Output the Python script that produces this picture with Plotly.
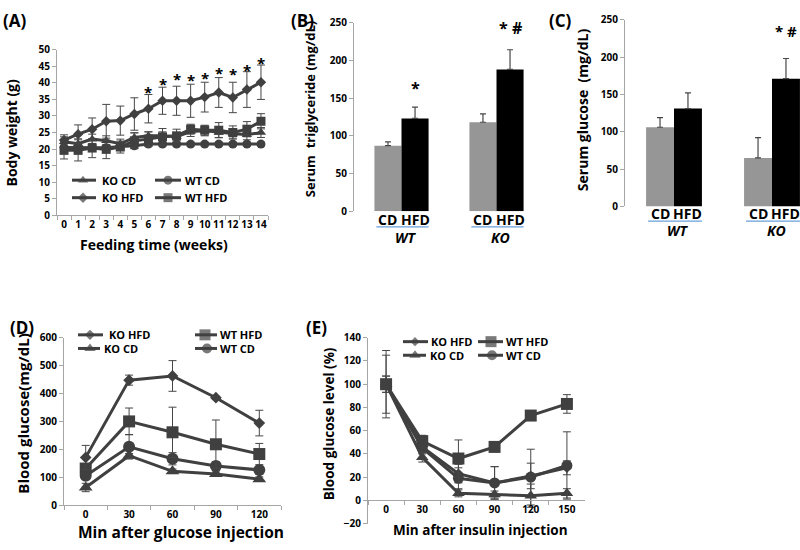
import plotly.graph_objects as go

# ---------------- data ----------------
# (A) body weight over 15 weeks
weeks = [str(w) for w in range(15)]
a_ko_cd = [22.2, 21.6, 23.0, 22.5, 21.6, 23.5, 24.0, 24.0, 23.7, 25.3, 25.5, 25.0, 24.7, 24.3, 25.0]
a_ko_cd_err = [1.5, 1.5, 1.5, 1.5, 1.4, 1.4, 1.2, 1.2, 1.2, 1.5, 1.5, 1.5, 1.4, 1.5, 1.5]
a_wt_cd = [20.5, 20.5, 20.5, 20.4, 20.8, 21.0, 21.5, 21.5, 21.5, 21.5, 21.5, 21.5, 21.5, 21.5, 21.5]
a_wt_cd_err = [1.2, 1.2, 1.2, 1.0, 1.0, 0.8, 0.6, 0.6, 0.6, 0.6, 0.6, 0.6, 0.6, 0.6, 0.6]
a_ko_hfd = [22.7, 24.5, 26.0, 28.4, 28.6, 30.6, 32.2, 34.6, 34.6, 34.6, 35.7, 37.1, 35.6, 38.0, 40.2]
a_ko_hfd_err = [1.6, 2.8, 3.4, 5.1, 4.4, 4.9, 4.3, 4.1, 4.4, 5.0, 4.5, 4.5, 4.6, 5.4, 5.2]
a_wt_hfd = [19.6, 19.6, 20.3, 19.9, 20.6, 22.5, 23.0, 23.7, 24.0, 26.0, 25.7, 25.7, 25.0, 26.0, 28.4]
a_wt_hfd_err = [2.6, 3.2, 2.9, 2.8, 1.8, 2.4, 2.2, 2.5, 2.0, 1.5, 1.5, 2.3, 2.0, 2.3, 2.3]
a_star_weeks = ["6", "7", "8", "9", "10", "11", "12", "13", "14"]
a_star_y = [38.7, 41.2, 42.6, 42.4, 43.1, 44.6, 44.1, 45.3, 47.5]

# (B) serum triglyceride, (C) serum glucose
genotypes = ["WT", "KO"]
tg_cd = [87, 118]
tg_cd_err = [5, 11]
tg_hfd = [123, 188]
tg_hfd_err = [15, 26]
tg_star_text = ["*", "* #"]
tg_star_y = [168, 248]

glu_cd = [106, 65]
glu_cd_err = [13, 27]
glu_hfd = [131, 171]
glu_hfd_err = [21, 27]
glu_star_text = ["", "* #"]
glu_star_y = [None, 240]

# (D) glucose tolerance test
gtt_min = ["0", "30", "60", "90", "120"]
gtt_ko_hfd = [171, 448, 463, 385, 294]
gtt_ko_hfd_err = [43, 18, 55, 5, 46]
gtt_wt_hfd = [131, 300, 261, 218, 183]
gtt_wt_hfd_err = [14, 48, 90, 87, 38]
gtt_ko_cd = [63, 177, 121, 111, 93]
gtt_ko_cd_err = [15, 8, 8, 8, 8]
gtt_wt_cd = [105, 209, 166, 140, 126]
gtt_wt_cd_err = [12, 44, 22, 15, 12]
gtt_star_min = ["30", "60", "90"]
gtt_star_y = [516, 557, 448]

# (E) insulin tolerance test
itt_min = ["0", "30", "60", "90", "120", "150"]
itt_ko_hfd = [100, 46, 23, 15, 21, 28]
itt_ko_hfd_err = [25, 5, 8, 14, 11, 6]
itt_wt_hfd = [100, 51, 36, 46, 73, 83]
itt_wt_hfd_err = [29, 5, 16, 3, 3, 8]
itt_ko_cd = [100, 37, 6, 5, 4, 6]
itt_ko_cd_err = [7, 4, 3, 3, 10, 4]
itt_wt_cd = [100, 45, 19, 15, 20, 30]
itt_wt_cd_err = [7, 5, 9, 14, 24, 29]
itt_star_min = ["90", "120", "150"]
itt_star_y = [65, 88.5, 101]

# ---------------- style ----------------
W, H = 800, 550
FONT = "Open Sans"
INK = "#000000"
LINE = "#404040"
ERR = "#474747"
AXIS = "#a6a6a6"
BAR_CD = "#969696"
BAR_HFD = "#000000"
UNDER = "#6a9fd8"
BARGAP = 0.43
GW = 1 - BARGAP  # group width in category units


def px(x):
    return x / W


def py(y):
    return 1 - y / H


def bold(size, style="normal"):
    return dict(family=FONT, size=size, color=INK, weight=700, style=style)


fig = go.Figure()


def add_line(x, y, err, symbol, size, xa, ya, cap=4):
    fig.add_trace(go.Scatter(
        x=x, y=y, mode="lines+markers", xaxis=xa, yaxis=ya,
        line=dict(color=LINE, width=3),
        marker=dict(symbol=symbol, size=size, color=LINE, line=dict(width=0)),
        error_y=dict(type="data", array=err, visible=True, color=ERR, thickness=1, width=cap),
        showlegend=False, cliponaxis=False, hoverinfo="skip"))


# (A)
add_line(weeks, a_wt_cd, a_wt_cd_err, "circle", 9, "x", "y")
add_line(weeks, a_ko_cd, a_ko_cd_err, "triangle-up", 9, "x", "y")
add_line(weeks, a_wt_hfd, a_wt_hfd_err, "square", 9, "x", "y")
add_line(weeks, a_ko_hfd, a_ko_hfd_err, "diamond", 8, "x", "y")

# (B) & (C)
for xa, ya, cd, cde, hfd, hfde in [("x2", "y2", tg_cd, tg_cd_err, tg_hfd, tg_hfd_err),
                                    ("x3", "y3", glu_cd, glu_cd_err, glu_hfd, glu_hfd_err)]:
    fig.add_trace(go.Bar(x=genotypes, y=cd, xaxis=xa, yaxis=ya, marker=dict(color=BAR_CD, line=dict(width=0)),
                         error_y=dict(type="data", array=cde, arrayminus=[0] * len(cde), symmetric=False,
                                      color=ERR, thickness=1.2, width=3),
                         showlegend=False, offsetgroup="cd", hoverinfo="skip"))
    fig.add_trace(go.Bar(x=genotypes, y=hfd, xaxis=xa, yaxis=ya, marker=dict(color=BAR_HFD, line=dict(width=0)),
                         error_y=dict(type="data", array=hfde, arrayminus=[0] * len(hfde), symmetric=False,
                                      color=ERR, thickness=1.2, width=3),
                         showlegend=False, offsetgroup="hfd", hoverinfo="skip"))

# (D)
add_line(gtt_min, gtt_ko_cd, gtt_ko_cd_err, "triangle-up", 12, "x4", "y4", cap=4)
add_line(gtt_min, gtt_wt_cd, gtt_wt_cd_err, "circle", 12, "x4", "y4", cap=4)
add_line(gtt_min, gtt_wt_hfd, gtt_wt_hfd_err, "square", 12, "x4", "y4", cap=4)
add_line(gtt_min, gtt_ko_hfd, gtt_ko_hfd_err, "diamond", 9, "x4", "y4", cap=4)

# (E)
add_line(itt_min, itt_ko_cd, itt_ko_cd_err, "triangle-up", 11, "x5", "y5", cap=4)
add_line(itt_min, itt_wt_cd, itt_wt_cd_err, "circle", 11, "x5", "y5", cap=4)
add_line(itt_min, itt_ko_hfd, itt_ko_hfd_err, "diamond", 8, "x5", "y5", cap=4)
add_line(itt_min, itt_wt_hfd, itt_wt_hfd_err, "square", 12, "x5", "y5", cap=4)

# ---------------- manual legends (overlay in pixel space) ----------------
legend_keys = [
    # (x_line0, x_line1, x_marker, y, symbol, size, text, x_text)
    (72, 96, 83, 177, "triangle-up", 9, "KO CD", 100),
    (155, 181, 168, 177, "circle", 9, "WT CD", 183),
    (72, 96, 83, 195, "diamond", 8, "KO HFD", 100),
    (155, 181, 168, 195, "square", 9, "WT HFD", 183),
    (78, 103, 90, 336, "diamond", 8, "KO HFD", 107),
    (195, 217, 205, 336, "square", 11, "WT HFD", 218),
    (78, 100, 90, 350, "triangle-up", 10, "KO CD", 102),
    (195, 217, 207, 350, "circle", 10, "WT CD", 218),
    (403, 428, 415, 343, "diamond", 7, "KO HFD", 429),
    (478, 503, 491, 343, "square", 11, "WT HFD", 504),
    (403, 426, 415, 357, "triangle-up", 10, "KO CD", 428),
    (478, 503, 492, 357, "circle", 10, "WT CD", 504),
]
annotations = []
for x0, x1, xm, yk, sym, sz, txt, xt in legend_keys:
    fig.add_trace(go.Scatter(x=[x0, xm, x1], y=[yk, yk, yk], mode="lines+markers", xaxis="x6", yaxis="y6",
                             line=dict(color=LINE, width=3),
                             marker=dict(symbol=sym, size=[0, sz, 0], color=LINE, line=dict(width=0)),
                             showlegend=False, hoverinfo="skip"))
    annotations.append(dict(x=px(xt), y=py(yk), xref="paper", yref="paper", text=txt, showarrow=False,
                            xanchor="left", yanchor="middle", font=bold(11)))

# ---------------- stars ----------------
for wk, ys in zip(a_star_weeks, a_star_y):
    annotations.append(dict(x=wk, y=ys, xref="x", yref="y", text="*", showarrow=False,
                            yanchor="middle", yshift=-5, font=bold(15)))
for i, (t, ys) in enumerate(zip(tg_star_text, tg_star_y)):
    annotations.append(dict(x=i + GW / 4, y=ys, xref="x2", yref="y2", text=t, showarrow=False,
                            yanchor="middle", yshift=-4, font=bold(16)))
for i, (t, ys) in enumerate(zip(glu_star_text, glu_star_y)):
    if t:
        annotations.append(dict(x=i + GW / 4, y=ys, xref="x3", yref="y3", text=t, showarrow=False,
                                yanchor="middle", yshift=-4, font=bold(15)))
for m, ys in zip(gtt_star_min, gtt_star_y):
    annotations.append(dict(x=m, y=ys, xref="x4", yref="y4", text="*", showarrow=False,
                            yanchor="middle", yshift=-5, font=bold(15)))
for m, ys in zip(itt_star_min, itt_star_y):
    annotations.append(dict(x=m, y=ys, xref="x5", yref="y5", text="*", showarrow=False,
                            yanchor="middle", yshift=-5, font=bold(15)))

# ---------------- bar category labels ----------------
shapes = []
for xa, y_cat, y_line, y_geno in [("x2", 217, 225, 236), ("x3", 211, 219, 229)]:
    for i, g in enumerate(genotypes):
        annotations.append(dict(x=i - GW / 4, y=py(y_cat), xref=xa, yref="paper", text="CD", showarrow=False,
                                yanchor="middle", font=bold(14)))
        annotations.append(dict(x=i + GW / 4, y=py(y_cat), xref=xa, yref="paper", text="HFD", showarrow=False,
                                yanchor="middle", font=bold(14)))
        annotations.append(dict(x=i, y=py(y_geno), xref=xa, yref="paper", text=g, showarrow=False,
                                yanchor="middle", xshift=4, font=bold(14, "italic")))
        shapes.append(dict(type="line", xref=xa, yref="paper", x0=i - GW / 2 + 0.02, x1=i + GW / 2,
                           y0=py(y_line), y1=py(y_line), line=dict(color=UNDER, width=1.2)))

# ---------------- titles ----------------
titles = [
    ("(A)", 14, 13, 0, 17),
    ("(B)", 302, 13, 0, 17),
    ("(C)", 560, 13, 0, 17),
    ("(D)", 22, 328, 0, 17),
    ("(E)", 316, 328, 0, 17),
    ("Body weight (g)", 12, 128, -90, 14),
    ("Feeding time (weeks)", 154, 243, 0, 14),
    ("Serum\u00a0 triglyceride (mg/dL)", 310, 104, -90, 13),
    ("Serum glucose\u00a0 (mg/dL)", 582, 105, -90, 14),
    ("Blood glucose(mg/dL)", 23, 417, -90, 15),
    ("Min after glucose injection", 181, 539, 0, 15.5),
    ("Blood glucose level (%)", 329, 428, -90, 13.5),
    ("Min after insulin injection", 480, 537, 0, 13.5),
]
for txt, x, y, ang, sz in titles:
    annotations.append(dict(x=px(x), y=py(y), xref="paper", yref="paper", text=txt, showarrow=False,
                            xanchor="center", yanchor="middle", textangle=ang, font=bold(sz)))

# ---------------- axes ----------------
TICKFONT = bold(10)


def yax(y_bot, y_top, rng, dtick, anchor):
    return dict(domain=[py(y_bot), py(y_top)], range=rng, dtick=dtick, anchor=anchor, showline=True,
                linecolor=AXIS, linewidth=1, ticks="outside", ticklen=4, tickcolor=AXIS, showgrid=False,
                zeroline=False, tickfont=TICKFONT, fixedrange=True)


def xcat(x_l, x_r, rng, anchor, **kw):
    d = dict(domain=[px(x_l), px(x_r)], range=rng, type="category", anchor=anchor, showline=True,
             linecolor=AXIS, linewidth=1, ticks="outside", ticklen=4, tickcolor=AXIS, tickson="boundaries",
             showgrid=False, zeroline=False, tickfont=TICKFONT, tickangle=0, fixedrange=True)
    d.update(kw)
    return d


# E y-axis geometry (x axis crosses at 0)
e_bot, e_top, e_rng = 530, 339, [-20, 140]
e_zero_px = e_bot - (0 - e_rng[0]) / (e_rng[1] - e_rng[0]) * (e_bot - e_top)

fig.update_layout(
    width=W, height=H, margin=dict(l=0, r=0, t=0, b=0),
    paper_bgcolor="white", plot_bgcolor="rgba(0,0,0,0)",
    barmode="group", bargap=BARGAP, bargroupgap=0,
    font=dict(family=FONT, color=INK),
    xaxis=xcat(57, 268, [-0.5, 14.5], "y"),
    yaxis=yax(213, 43, [0, 50], 5, "x"),
    xaxis2=dict(domain=[px(354), px(544)], range=[-0.5, 1.5], type="category", anchor="y2", visible=False,
                fixedrange=True),
    yaxis2=yax(209, 15, [0, 250], 50, "x2"),
    xaxis3=dict(domain=[px(625), 1.0], range=[-0.5, (800 - 625) / 98 - 0.5], type="category", anchor="y3",
                visible=False, fixedrange=True),
    yaxis3=yax(204, 12, [0, 250], 50, "x3"),
    xaxis4=xcat(64, 281, [-0.5, 4.5], "y4"),
    yaxis4=yax(511, 339, [0, 600], 100, "x4"),
    xaxis5=xcat(368, 585, [-0.5, 5.5], "free", position=py(e_zero_px)),
    yaxis5=yax(e_bot, e_top, e_rng, 20, "x5"),
    xaxis6=dict(domain=[0, 1], range=[0, W], visible=False, anchor="y6", fixedrange=True),
    yaxis6=dict(domain=[0, 1], range=[H, 0], visible=False, anchor="x6", fixedrange=True),
    annotations=annotations,
    shapes=shapes,
)

# the page's default 8px body margin would shift the 800x550 figure out of the window
fig.write_html("out.html", config={"displayModeBar": False, "staticPlot": True},
               post_script="document.body.style.margin='0px';")
